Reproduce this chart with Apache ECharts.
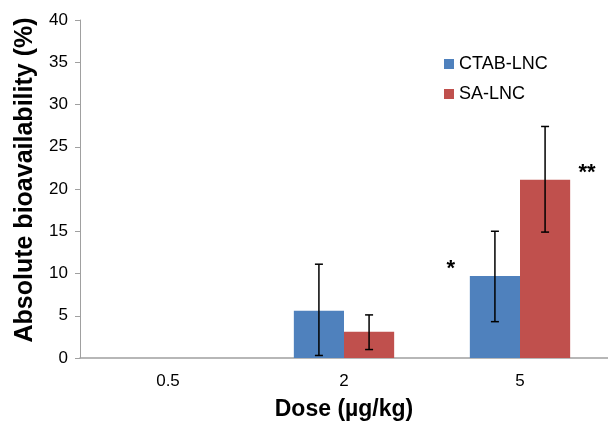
<!DOCTYPE html>
<html>
<head>
<meta charset="utf-8">
<script src="https://cdn.jsdelivr.net/npm/echarts@6/dist/echarts.min.js"></script>
<style>html,body{margin:0;padding:0;background:#fff}#c{width:608px;height:422px}</style>
</head>
<body>
<div id="c"></div>
<script>
const categories = ['0.5', '2', '5'];
const ctabValues = [null, 5.6, 9.7];
const saValues = [null, 3.1, 21.1];
const ctabErrLow = [null, 0.3, 4.3];
const ctabErrHigh = [null, 11.1, 15.0];
const saErrLow = [null, 1.0, 14.9];
const saErrHigh = [null, 5.1, 27.4];
const ctabMarks = ['', '', '*'];
const saMarks = ['', '', '**'];
const yTicks = [0, 5, 10, 15, 20, 25, 30, 35, 40];

const FONT = '"Liberation Sans", Arial, sans-serif';
const GAP = 0.43;

function errData(lo, hi) {
  return categories.map((c, i) => lo[i] == null ? null : [i, lo[i], hi[i]]).filter(d => d);
}
function errRender(side) {
  return function (params, api) {
    const idx = api.value(0);
    const lo = api.coord([idx, api.value(1)]);
    const hi = api.coord([idx, api.value(2)]);
    const band = api.size([1, 0])[0];
    const off = side * band * (1 - GAP) / 4;
    const x = lo[0] + off;
    const cap = 4;
    const style = { stroke: '#000', lineWidth: 1.5 };
    return {
      type: 'group',
      children: [
        { type: 'line', shape: { x1: x, y1: lo[1], x2: x, y2: hi[1] }, style },
        { type: 'line', shape: { x1: x - cap, y1: lo[1], x2: x + cap, y2: lo[1] }, style },
        { type: 'line', shape: { x1: x - cap, y1: hi[1], x2: x + cap, y2: hi[1] }, style }
      ]
    };
  };
}
function withMarks(vals, marks, pos) {
  return vals.map((v, i) => marks[i] ? {
    value: v,
    label: { show: true, formatter: marks[i], position: pos, color: '#000', fontSize: 22, fontWeight: 'bold', fontFamily: FONT, align: 'center', verticalAlign: 'middle' }
  } : v);
}

const chart = echarts.init(document.getElementById('c'));
chart.setOption({
  animation: false,
  textStyle: { fontFamily: FONT },
  grid: { left: 80, right: 0, top: 20, bottom: 64, outerBoundsMode: 'none', containLabel: false },
  legend: {
    orient: 'vertical', left: 439, top: 50,
    itemWidth: 10, itemHeight: 10, itemGap: 12,
    icon: 'rect',
    textStyle: { fontSize: 18, color: '#000', fontFamily: FONT },
    data: ['CTAB-LNC', 'SA-LNC']
  },
  xAxis: {
    type: 'category', data: categories,
    axisLine: { lineStyle: { color: '#a0a0a0', width: 1.5 } },
    axisTick: { show: false },
    axisLabel: { color: '#000', fontSize: 17, margin: 15, fontFamily: FONT },
    name: 'Dose (µg/kg)', nameLocation: 'middle', nameGap: 40,
    nameTextStyle: { fontSize: 23, fontWeight: 'bold', color: '#000', fontFamily: FONT }
  },
  yAxis: {
    type: 'value', min: 0, max: 40, interval: 5,
    axisLine: { show: true, lineStyle: { color: '#a0a0a0', width: 1 } },
    axisTick: { show: true, length: 5, lineStyle: { color: '#a0a0a0' } },
    splitLine: { show: false },
    axisLabel: { color: '#000', fontSize: 17, margin: 12, fontFamily: FONT,
      formatter: v => yTicks.includes(v) ? String(v) : '' },
    name: 'Absolute bioavailability (%)', nameLocation: 'middle', nameGap: 42,
    nameTextStyle: { fontSize: 25, fontWeight: 'bold', color: '#000', fontFamily: FONT, padding: [0, 0, 0, 18] }
  },
  series: [
    { name: 'CTAB-LNC', type: 'bar', barGap: '0%', barCategoryGap: '43%',
      itemStyle: { color: '#4F81BD' },
      data: withMarks(ctabValues, ctabMarks, [-19, -7]) },
    { name: 'SA-LNC', type: 'bar', barGap: '0%', barCategoryGap: '43%',
      itemStyle: { color: '#C0504D' },
      data: withMarks(saValues, saMarks, [67, -7]) },
    { type: 'custom', renderItem: errRender(-1), data: errData(ctabErrLow, ctabErrHigh), z: 10, silent: true },
    { type: 'custom', renderItem: errRender(1), data: errData(saErrLow, saErrHigh), z: 10, silent: true }
  ]
});
</script>
</body>
</html>
